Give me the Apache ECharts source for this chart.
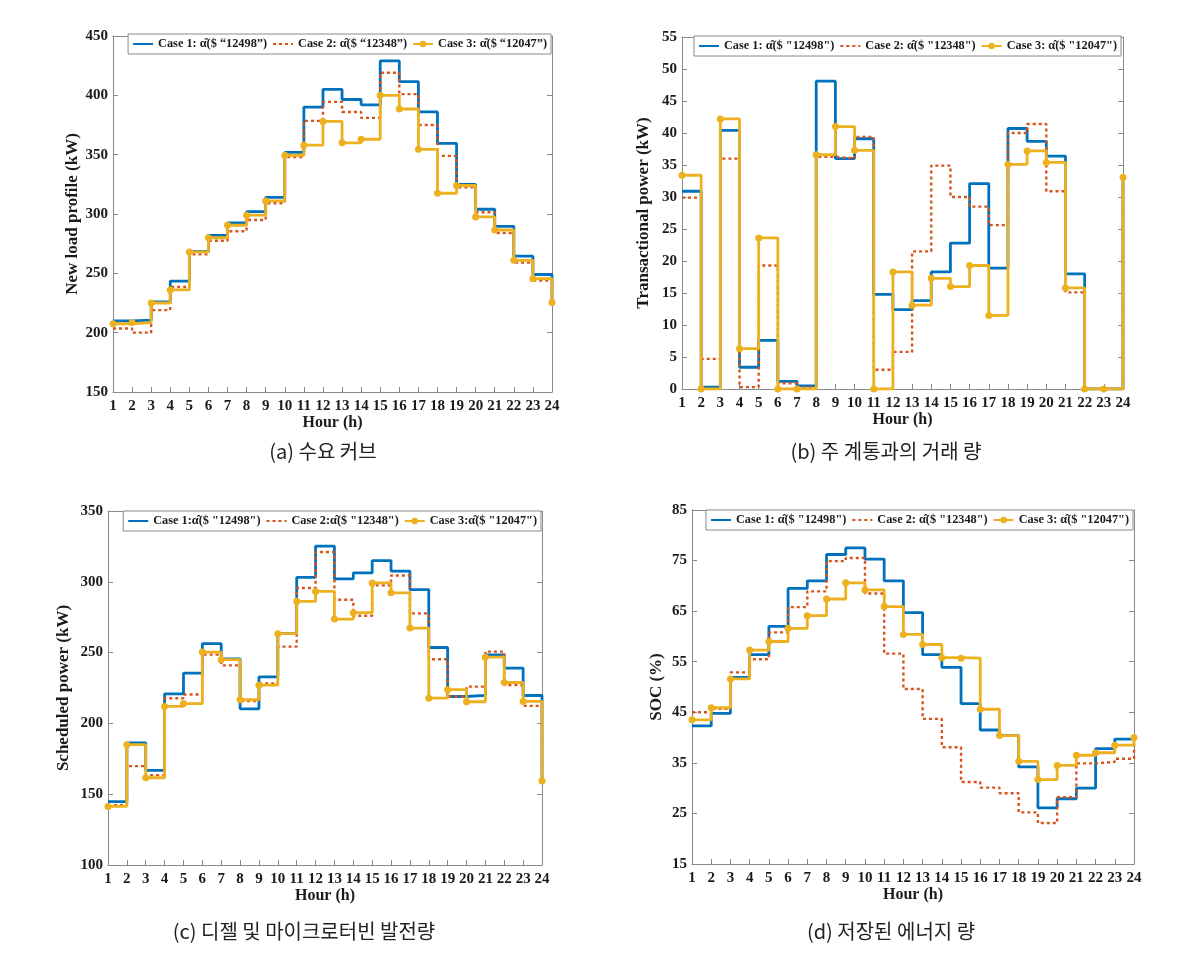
<!DOCTYPE html>
<html><head><meta charset="utf-8">
<script src="https://cdn.jsdelivr.net/npm/echarts@6/dist/echarts.min.js"></script>
<style>html,body{margin:0;padding:0;background:#fff}#c{width:1192px;height:969px}</style>
</head><body><div id="c"></div>
<script>
// ---- data ----
const hours = [1,2,3,4,5,6,7,8,9,10,11,12,13,14,15,16,17,18,19,20,21,22,23,24];

const loadCase1 = [210,210.5,226,243.5,268.5,282,292.5,302,314,352,390,405,396.5,392,429,411.5,386,359.5,325,304,289.5,264.5,249,224];
const loadCase2 = [203.5,200,219,238.5,266,277.5,285.5,295,309,348,378.5,394.5,386,381,419,401,375,349,322.5,301.5,284,259,244,223];
const loadCase3 = [207.5,208.5,225,236,268,280,290.5,299,311,349.5,358,378,360,363,400,388.5,354.5,317.5,324,297.5,286.5,261,245.5,225.5];

const tradeCase1 = [30.9,0.3,40.4,3.4,7.6,1.2,0.5,48.1,36,39.1,14.8,12.4,13.8,18.3,22.8,32.1,18.9,40.7,38.7,36.4,18,0,0,33];
const tradeCase2 = [29.9,4.7,36,0.3,19.3,0.9,0.3,36.3,36,39.4,3,5.8,21.5,34.9,30,28.5,25.6,40,41.4,30.9,15.1,0,0,33];
const tradeCase3 = [33.4,0,42.2,6.3,23.6,0,0,36.6,41,37.3,0,18.3,13.1,17.3,16,19.3,11.5,35.1,37.2,35.4,15.8,0,0,33.1];

const schedCase1 = [144.7,186.2,166.8,220.9,235.5,256.3,245.6,210.3,232.9,263.4,303.1,325.2,302.1,306.3,315,307.6,294.5,253.6,219,219.8,248.4,239,219.7,160];
const schedCase2 = [142.3,169.8,163.5,217.8,220.4,248.6,241,215.7,228.3,254.2,295.6,321,287.3,276,297.5,304.5,277.7,245.3,219,226,250.7,227,212.4,160];
const schedCase3 = [141.4,185,161.6,212,214,250.4,245,216.7,227,263.4,286.2,293.2,273.7,278.2,299.2,292.2,267.3,217.8,223.8,215.3,246.8,228.9,215.5,159.3];

const socCase1 = [42.3,44.8,51.9,56.4,62,69.5,71,76.2,77.5,75.3,71,64.7,56.4,53.9,46.7,41.5,40.4,34.2,26.1,27.9,30,37.8,39.7,40];
const socCase2 = [45,45.7,52.9,55.5,60.8,65.8,68.9,74.9,75.5,68.5,56.6,49.6,43.7,38.1,31.2,30.1,29,25.2,23.1,28.2,34.9,35.2,35.8,39];
const socCase3 = [43.5,45.9,51.6,57.3,59,61.6,64.1,67.4,70.6,69.2,65.9,60.4,58.4,55.8,55.7,45.6,40.4,35.3,31.7,34.5,36.5,37,38.5,40];

const namesA = ['Case 1: \u03b1\u0302($ \u201c12498\u201d)', 'Case 2: \u03b1\u0302($ \u201c12348\u201d)', 'Case 3: \u03b1\u0302($ \u201c12047\u201d)'];
const namesB = ['Case 1: \u03b1\u0302($ "12498")', 'Case 2: \u03b1\u0302($ "12348")', 'Case 3: \u03b1\u0302($ "12047")'];
const namesC = ['Case 1:\u03b1\u0302($ "12498")', 'Case 2:\u03b1\u0302($ "12348")', 'Case 3:\u03b1\u0302($ "12047")'];
const namesD = namesB;

const yTitles = ['New load profile (kW)', 'Transactional power (kW)', 'Scheduled power (kW)', 'SOC (%)'];
const xTitle = 'Hour (h)';
const captions = ['(a) 수요 커브', '(b) 주 계통과의 거래 량', '(c) 디젤 및 마이크로터빈 발전량', '(d) 저장된 에너지 량'];

// ---- layout / style ----
const SERIF = '"Liberation Serif","Times New Roman",serif';
const COLORS = ['#0072BD', '#D95319', '#EDB120'];
const AXC = '#8a8a8a';
const TXT = '#1a1a1a';

const panels = [
  {grid:{left:113, top:36, width:439, height:356}, y:{min:150, max:450, interval:50}, nameGap:32,
   data:[loadCase1, loadCase2, loadCase3], names:namesA, legend:{right:641, top:34}, cap:{x:323, y:451}},
  {grid:{left:682, top:37, width:441, height:352}, y:{min:0, max:55, interval:5}, nameGap:30,
   data:[tradeCase1, tradeCase2, tradeCase3], names:namesB, legend:{right:71, top:36}, cap:{x:886, y:451}},
  {grid:{left:108, top:511, width:434, height:354}, y:{min:100, max:350, interval:50}, nameGap:36,
   data:[schedCase1, schedCase2, schedCase3], names:namesC, legend:{right:651, top:511}, cap:{x:304, y:931}},
  {grid:{left:692, top:510, width:442, height:354}, y:{min:15, max:85, interval:10}, nameGap:27,
   data:[socCase1, socCase2, socCase3], names:namesD, legend:{right:59, top:510}, cap:{x:891, y:931}}
];

const grid = [], xAxis = [], yAxis = [], series = [], legend = [], graphic = [];
const tickStyle = {show:true, inside:true, length:5, lineStyle:{color:AXC, width:1}};
const lineAx = {show:true, onZero:false, lineStyle:{color:AXC, width:1}};

panels.forEach((p, i) => {
  grid.push(Object.assign({containLabel:false}, p.grid));
  xAxis.push({type:'value', gridIndex:i, min:1, max:24, interval:1, position:'bottom',
    axisLine:lineAx, axisTick:tickStyle, splitLine:{show:false},
    axisLabel:{color:TXT, fontFamily:SERIF, fontWeight:'bold', fontSize:15, margin:7,
      formatter: v => hours.includes(v) ? String(v) : ''},
    name:xTitle, nameLocation:'middle', nameGap:22,
    nameTextStyle:{color:TXT, fontFamily:SERIF, fontWeight:'bold', fontSize:16}});
  xAxis.push({type:'value', gridIndex:i, min:1, max:24, interval:1, position:'top',
    axisLine:lineAx, axisTick:tickStyle, splitLine:{show:false}, axisLabel:{show:false}});
  yAxis.push({type:'value', gridIndex:i, min:p.y.min, max:p.y.max, interval:p.y.interval, position:'left',
    axisLine:lineAx, axisTick:tickStyle, splitLine:{show:false},
    axisLabel:{color:TXT, fontFamily:SERIF, fontWeight:'bold', fontSize:15, margin:5},
    name:yTitles[i], nameLocation:'middle', nameGap:p.nameGap,
    nameTextStyle:{color:TXT, fontFamily:SERIF, fontWeight:'bold', fontSize:17}});
  yAxis.push({type:'value', gridIndex:i, min:p.y.min, max:p.y.max, interval:p.y.interval, position:'right',
    axisLine:lineAx, axisTick:tickStyle, splitLine:{show:false}, axisLabel:{show:false}});
  p.data.forEach((arr, k) => {
    const s = {
      type:'line', name:p.names[k], xAxisIndex:2*i, yAxisIndex:2*i, step:'end',
      data: hours.map((h, j) => [h, arr[j]]),
      color: COLORS[k], z: 2 + k,
      lineStyle:{color:COLORS[k], width: k === 1 ? 2.4 : 2.8, type: k === 1 ? [3, 3] : 'solid'},
      animation:false
    };
    if (k === 2) {
      s.symbol = 'circle'; s.symbolSize = 7; s.showSymbol = true; s.showAllSymbol = true;
      s.itemStyle = {color:COLORS[k]};
    } else {
      s.symbol = 'none'; s.showSymbol = false;
    }
    series.push(s);
  });
  legend.push({right:p.legend.right, top:p.legend.top, orient:'horizontal',
    data:p.names.map((n, k) => k === 2 ? {name:n} : {name:n, itemStyle:{opacity:0}}),
    backgroundColor:'#fff', borderColor:AXC, borderWidth:1, padding:[4,4,4,4],
    itemWidth:20, itemHeight:8, itemGap:5, selectedMode:false,
    textStyle:{color:TXT, fontFamily:SERIF, fontWeight:'bold', fontSize:12.3}});
  graphic.push({type:'text', x:p.cap.x, y:p.cap.y,
    style:{text:captions[i], fill:'#222', font:'20px "Noto Sans CJK KR"', align:'center', verticalAlign:'middle',
      textAlign:'center', textVerticalAlign:'middle'}});
});

const chart = echarts.init(document.getElementById('c'), null, {renderer:'canvas'});
chart.setOption({animation:false, backgroundColor:'#fff', grid, xAxis, yAxis, series, legend, graphic});
</script></body></html>
